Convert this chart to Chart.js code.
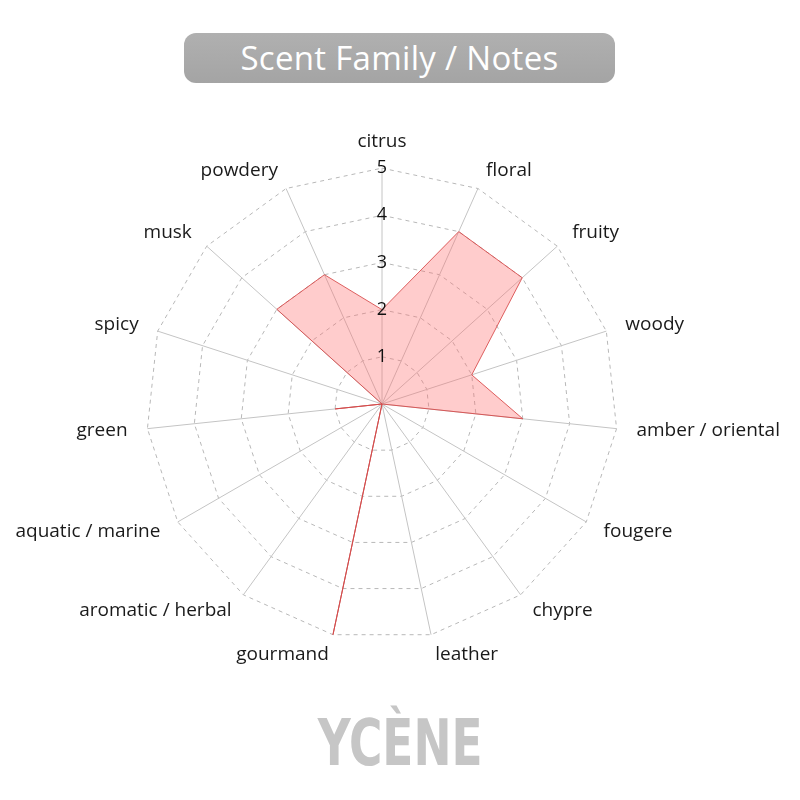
<!DOCTYPE html>
<html>
<head>
<meta charset="utf-8">
<script src="https://cdn.jsdelivr.net/npm/chart.js@4.4.1/dist/chart.umd.min.js"></script>
<style>
  html, body { margin: 0; padding: 0; background: #fff; width: 800px; height: 800px; overflow: hidden; }
  #title {
    position: absolute; left: 184px; top: 33px; width: 431px; height: 50px;
    border-radius: 12px; background: linear-gradient(#b0b0b0, #a4a4a4);
    color: #fff; font-family: "Open Sans", sans-serif; font-size: 33px;
    line-height: 50px; text-align: center; letter-spacing: 0.3px;
  }
  #wrap { position: absolute; left: 0; top: 112px; width: 800px; height: 580px; }
  #logo {
    position: absolute; left: 0; width: 800px; top: 706px; text-align: center;
    font-family: "DejaVu Sans Condensed", "DejaVu Sans", sans-serif;
    font-weight: bold; font-size: 64px; color: #c6c6c6;
    transform: scaleX(0.79); transform-origin: 401px 0;
  }
</style>
</head>
<body>
<div id="title">Scent Family / Notes</div>
<div id="wrap"><canvas id="c"></canvas></div>
<div id="logo">YCÈNE</div>
<script>
const categories = ["citrus", "floral", "fruity", "woody", "amber / oriental", "fougere", "chypre", "leather", "gourmand", "aromatic / herbal", "aquatic / marine", "green", "spicy", "musk", "powdery"];
const scores = [2, 4, 4, 2, 3, 0, 0, 0, 5, 0, 0, 1, 0, 3, 3];
const tickValues = [0, 1, 2, 3, 4, 5];

// Place point labels vertically centred on their spoke, a fixed distance beyond the outer ring.
const labelPlacement = {
  id: 'labelPlacement',
  beforeDraw(chart) {
    const s = chart.scales.r;
    const items = s._pointLabelItems;
    if (!items) return;
    const font = Chart.helpers.toFont(s.options.pointLabels.font);
    items.forEach((it, i) => {
      const off = i === 0 ? 27 : 20;
      const p = s.getPointPosition(i, s.drawingArea + off);
      it.x = p.x;
      it.y = p.y - font.lineHeight / 2;
    });
  }
};

new Chart(document.getElementById('c'), {
  type: 'radar',
  data: {
    labels: categories,
    datasets: [{
      data: scores,
      backgroundColor: 'rgba(255, 110, 110, 0.35)',
      borderColor: 'rgba(215, 70, 70, 0.85)',
      borderWidth: 1,
      pointRadius: 0,
      pointHoverRadius: 0,
      fill: true
    }]
  },
  plugins: [labelPlacement],
  options: {
    responsive: true,
    maintainAspectRatio: false,
    animation: false,
    layout: { padding: 0 },
    plugins: { legend: { display: false }, tooltip: { enabled: false } },
    scales: {
      r: {
        min: 0, max: 5,
        afterBuildTicks: (s) => { s.ticks = tickValues.map(v => ({ value: v })); },
        ticks: {
          stepSize: 1,
          showLabelBackdrop: false,
          color: '#111',
          font: { family: 'Open Sans', size: 18 },
          z: 1
        },
        grid: { color: '#b8b8b8', lineWidth: 1 },
        border: { dash: [4, 4] },
        angleLines: { color: '#c4c4c4', lineWidth: 1 },
        pointLabels: {
          color: '#1a1a1a',
          font: { family: 'Open Sans', size: 19 },
          padding: 11
        }
      }
    }
  }
});
</script>
</body>
</html>
